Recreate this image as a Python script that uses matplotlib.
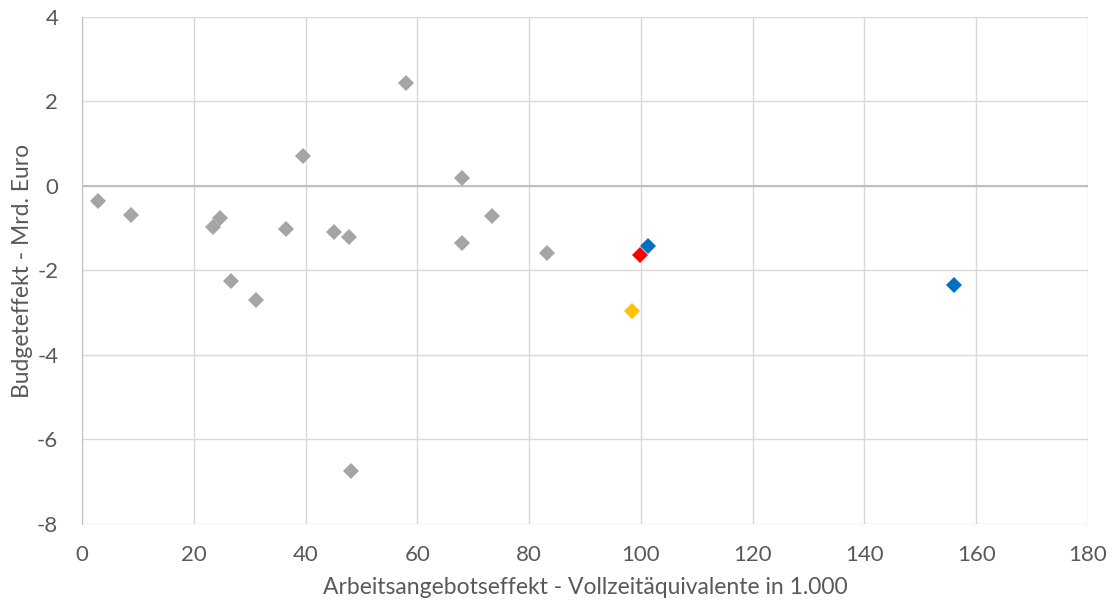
import matplotlib.pyplot as plt

plt.rcParams['font.family'] = ['Lato', 'DejaVu Sans']
plt.rcParams['axes.unicode_minus'] = False

# Arbeitsangebotseffekt (1.000 VZÄ) und Budgeteffekt (Mrd. Euro)
grey_x = [2.9, 8.8, 23.4, 24.7, 26.7, 31.1, 36.5, 39.5, 45.1, 47.8, 48.1,
          58.0, 68.0, 68.0, 73.4, 83.2]
grey_y = [-0.36, -0.69, -0.97, -0.76, -2.25, -2.70, -1.02, 0.71, -1.09,
          -1.21, -6.75, 2.44, 0.19, -1.35, -0.71, -1.59]
blue_x = [101.3, 156.0]
blue_y = [-1.42, -2.34]
red_x = [99.8]
red_y = [-1.63]
yellow_x = [98.4]
yellow_y = [-2.96]

x_ticks = [0, 20, 40, 60, 80, 100, 120, 140, 160, 180]
y_ticks = [-8, -6, -4, -2, 0, 2, 4]

fig = plt.figure(figsize=(11.15, 6.05), dpi=100)
ax = fig.add_axes([0.0735, 0.1339, 0.9023, 0.838])

ms = 8.5
ax.plot(grey_x, grey_y, "D", color="#A5A5A5", ms=ms, mew=0, zorder=3)
ax.plot(blue_x, blue_y, "D", color="#0070C0", ms=ms, mew=0, zorder=4)
ax.plot(red_x, red_y, "D", color="#FF0000", ms=ms, mew=0, zorder=5)
ax.plot(yellow_x, yellow_y, "D", color="#FFC000", ms=ms, mew=0, zorder=4)

ax.set_xlim(0, 180)
ax.set_ylim(-8, 4)
ax.set_xticks(x_ticks)
ax.set_yticks(y_ticks)
ax.grid(True, color="#D9D9D9", lw=1)
ax.set_axisbelow(True)
ax.axhline(0, color="#BFBFBF", lw=1.5, zorder=2)

for side in ["top", "right", "bottom"]:
    ax.spines[side].set_visible(False)
ax.spines["left"].set_color("#BFBFBF")
ax.tick_params(length=0, labelsize=16, colors="#595959")
ax.tick_params(axis="x", pad=15)
ax.tick_params(axis="y", pad=17)

ax.set_xlabel("Arbeitsangebotseffekt - Vollzeitäquivalente in 1.000",
              fontsize=16.5, color="#595959", labelpad=9)
ax.set_ylabel("Budgeteffekt - Mrd. Euro", fontsize=16.5, color="#595959", labelpad=3)

fig.savefig("out.png", dpi=100)
